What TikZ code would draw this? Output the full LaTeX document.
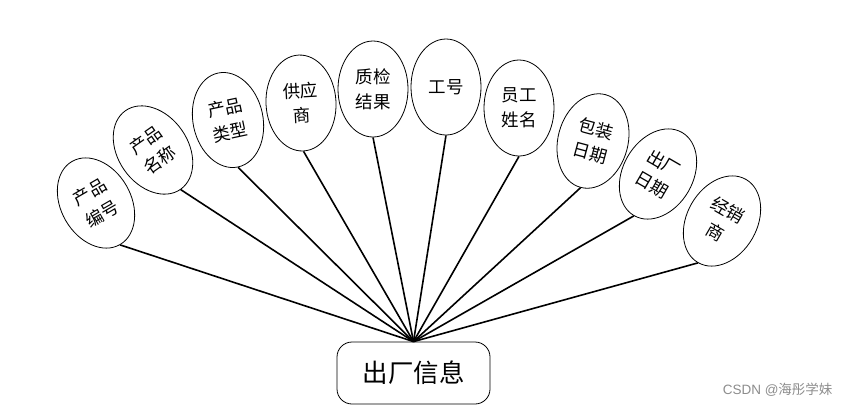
\documentclass[tikz,border=0pt]{standalone}
\usepackage{fontspec}
\newfontfamily\cjk{Noto Sans CJK SC}[Scale=1]
\usetikzlibrary{shapes.geometric}
\begin{document}
\begin{tikzpicture}[x=1pt,y=-1pt,
  attr/.style={ellipse,draw,line width=0.8pt,minimum width=70pt,minimum height=96pt,inner sep=0pt,
    font=\cjk\fontsize{17.5}{25}\selectfont,align=center},
  link/.style={line width=1.6pt},
  mainbox/.style={draw,rounded corners=15pt,line width=0.8pt,minimum width=153pt,minimum height=62pt,
    font=\cjk\fontsize{25.5}{30}\selectfont}]
\useasboundingbox (0,0) rectangle (851,408);
\node[mainbox] (box) at (413.5,373) {出厂信息};
\node[attr,rotate=30] (e1) at (96,203) {产品\\编号};
\node[attr,rotate=35] (e2) at (153,150) {产品\\名称};
\node[attr,rotate=12] (e3) at (228,120) {产品\\类型};
\node[attr,rotate=3] (e4) at (301,103) {供应\\商};
\node[attr] (e5) at (373,89) {质检\\结果};
\node[attr] (e6) at (446,87) {工号};
\node[attr] (e7) at (519,108) {员工\\姓名};
\node[attr,rotate=-15] (e8) at (593,141) {包装\\日期};
\node[attr,rotate=-30] (e9) at (658,174) {出厂\\日期};
\node[attr,rotate=-30] (e10) at (722,221) {经销\\商};
\foreach \i in {1,...,10} \draw[link] (e\i.south) -- (box.north);
\node[text=black!45,font=\fontspec{Liberation Sans}\fontsize{13.5}{16}\selectfont,anchor=east] (wm) at (836,390) {CSDN @{\cjk 海彤学妹}};
\end{tikzpicture}
\end{document}
